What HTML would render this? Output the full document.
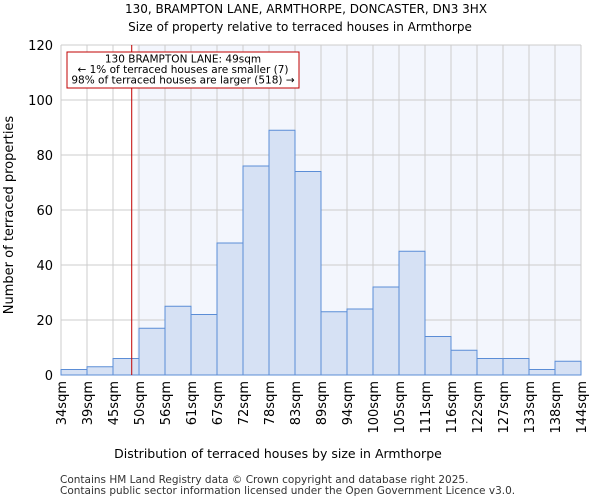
<!DOCTYPE html>
<html><head><meta charset="utf-8"><style>
body{margin:0;background:#fff;font-family:"DejaVu Sans","Liberation Sans",sans-serif;}
</style></head><body>
<svg width="600" height="500" xmlns="http://www.w3.org/2000/svg" font-family="DejaVu Sans, Liberation Sans, sans-serif">
<text x="306" y="13" font-size="12" text-anchor="middle">130, BRAMPTON LANE, ARMTHORPE, DONCASTER, DN3 3HX</text>
<text x="300" y="31" font-size="12" text-anchor="middle">Size of property relative to terraced houses in Armthorpe</text>
<g id="plot"></g>
<text x="278" y="458" font-size="12.5" text-anchor="middle">Distribution of terraced houses by size in Armthorpe</text>
<text transform="translate(13,215) rotate(-90)" font-size="13" text-anchor="middle">Number of terraced properties</text>
<text x="60" y="483" font-size="10.5" fill="#333">Contains HM Land Registry data © Crown copyright and database right 2025.</text>
<text x="60" y="494" font-size="10.5" fill="#333">Contains public sector information licensed under the Open Government Licence v3.0.</text>
</svg>
<script>
const categories=["34sqm","39sqm","45sqm","50sqm","56sqm","61sqm","67sqm","72sqm","78sqm","83sqm","89sqm","94sqm","100sqm","105sqm","111sqm","116sqm","122sqm","127sqm","133sqm","138sqm","144sqm"];
const counts=[2,3,6,17,25,22,48,76,89,74,23,24,32,45,14,9,6,6,2,5];
const yTicks=[0,20,40,60,80,100,120];
const propertyBinPos=2.72;
const ns="http://www.w3.org/2000/svg";
const g=document.getElementById('plot');
const X0=61,BW=26,Y0=375,YS=330/120;
const x=i=>X0+i*BW, y=v=>Y0-v*YS;
function mk(t,a){const e=document.createElementNS(ns,t);for(const k in a)e.setAttribute(k,a[k]);g.appendChild(e);return e;}
const n=counts.length;
let r=mk('rect',{x:x(3)-2,y:y(120),width:x(n)-x(3)+2,height:Y0-y(120),fill:'#f3f6fd'});


for(let i=0;i<=n;i++){let l=mk('line',{x1:x(i),x2:x(i),y1:y(120),y2:Y0,stroke:'#ccc','stroke-width':1});

}
yTicks.forEach(t=>{let l=mk('line',{x1:X0,x2:x(n),y1:y(t),y2:y(t),stroke:'#ccc','stroke-width':1});


let tx=mk('text',{x:X0-8,y:y(t)+5,'font-size':13,'text-anchor':'end'});tx.textContent=t;

});
counts.forEach((c,i)=>{let b=mk('rect',{x:x(i),y:y(c),width:BW,height:c*YS,fill:'#d6e1f4',stroke:'#5b8dd6','stroke-width':1});

});
categories.forEach((c,i)=>{let t=mk('text',{transform:`translate(${x(i)+5},381) rotate(-90)`,'font-size':13,'text-anchor':'end'});t.textContent=c;

});
let px=x(propertyBinPos);
let pl=mk('line',{x1:px,x2:px,y1:y(120),y2:Y0,stroke:'#c00000','stroke-width':1});


let box=mk('rect',{x:67,y:52,width:232,height:36,fill:'#fff',stroke:'#c00000','stroke-width':1});


["130 BRAMPTON LANE: 49sqm","← 1% of terraced houses are smaller (7)","98% of terraced houses are larger (518) →"].forEach((s,i)=>{let t=mk('text',{x:183,y:62.5+i*10.5,'font-size':10.5,'text-anchor':'middle'});t.textContent=s;

});
</script>
</body></html>
